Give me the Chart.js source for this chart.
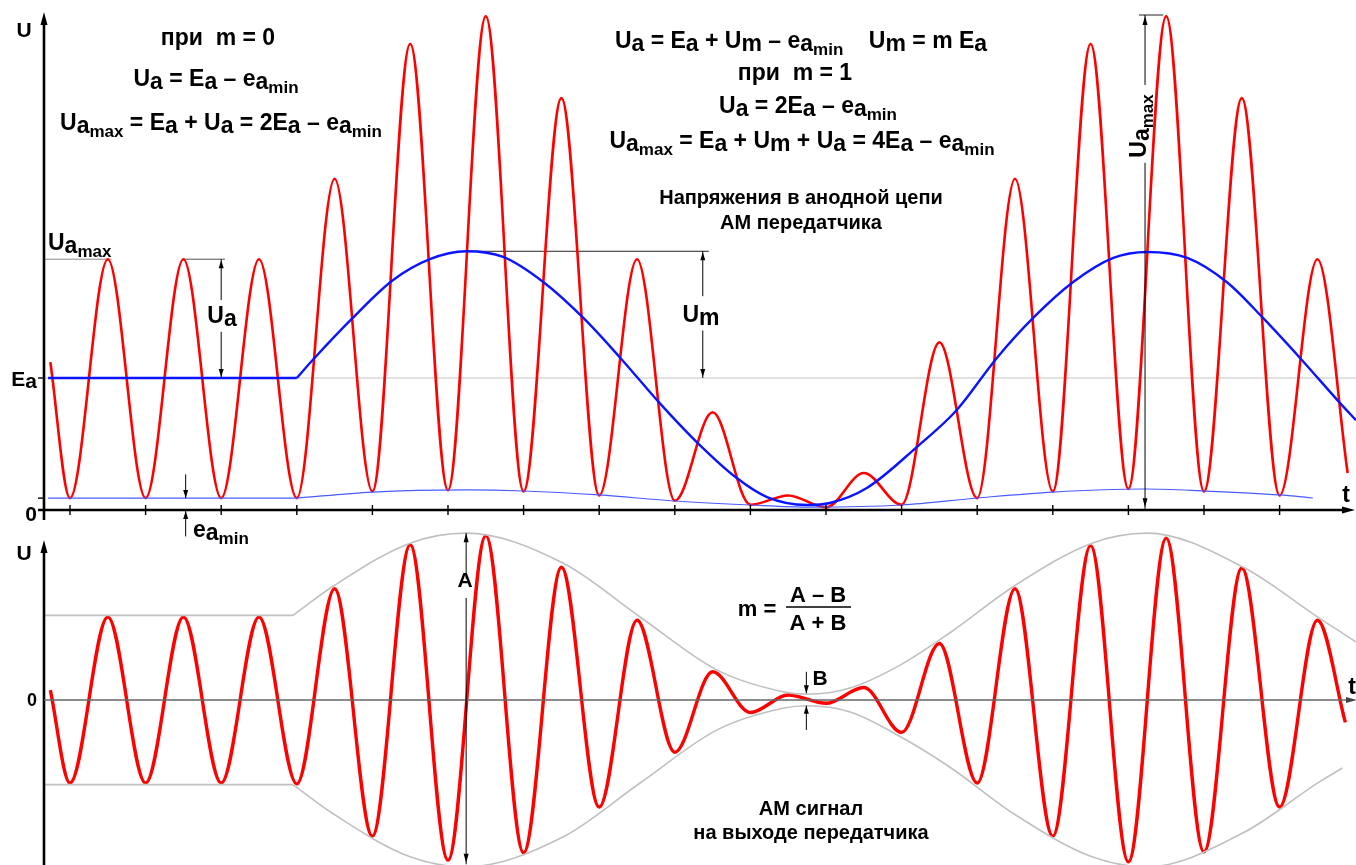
<!DOCTYPE html>
<html>
<head>
<meta charset="utf-8">
<script src="https://cdn.jsdelivr.net/npm/chart.js@4.4.0/dist/chart.umd.min.js"></script>
<style>
  html, body { margin: 0; padding: 0; background: #fff; }
  canvas { display: block; }
</style>
</head>
<body>
<canvas id="amChart" width="1356" height="865"></canvas>
<script>
// время в периодах несущей (0 = первый минимум), U при Ea = 100
const carrierTicks = [0, 1, 2, 3, 4, 5, 6, 7, 8, 9, 10, 11, 12, 13, 14, 15, 16];

// верхний график: напряжение на аноде (красная)
const anodeT = [-0.26, 0, 0.5, 1, 1.5, 2, 2.5, 3, 3.5, 4, 4.5, 5, 5.5, 6, 6.5, 7, 7.5, 8, 8.5, 9, 9.5, 10, 10.5, 11, 11.5, 12, 12.5, 13, 13.5, 14, 14.5, 15, 15.5, 16, 16.5, 16.9];
const anodeU = [112, 9, 190, 9, 190, 9, 190, 9, 251, 14, 353, 15, 374, 14, 312, 11, 190, 7, 74, 4, 11, 2, 28, 4, 127, 9, 251, 14, 353, 16, 374, 14, 312, 11, 190, 28];

// модулирующее напряжение (синяя), первые две точки - участок без модуляции
const modT = [-0.29, 3.0, 3.21, 3.74, 4.27, 4.76, 5.24, 5.73, 6.26, 6.79, 7.28, 7.8, 8.29, 8.82, 9.22, 9.75, 10.05, 10.54, 11.2, 11.73, 12.26, 12.74, 13.27, 13.8, 14.25, 14.78, 15.3, 15.78, 16.27, 16.8, 17.01];
const modU = [100, 100, 113.6, 145.5, 174, 190, 196, 191.7, 172.7, 145.5, 115.2, 81, 51.5, 24.2, 9.8, 3.8, 5.3, 16.7, 47.7, 75.8, 115.2, 145.5, 172.7, 191, 195.5, 191, 172.7, 145.5, 115.2, 81, 68];

// остаточное напряжение ea min (тонкая синяя)
const eminT = [-0.29, 3, 4, 5.24, 6, 7, 8, 9, 9.8, 11, 12, 13, 14.22, 15, 16, 16.44];
const eminU = [9, 9, 13.6, 15.2, 14.4, 11.4, 6.8, 3.8, 2.2, 3.8, 9.1, 13.6, 15.9, 14.4, 11.4, 9.1];

// нижний график: АМ сигнал, амплитуда несущей = 100
const amT = [-0.26, 0, 0.5, 1, 1.5, 2, 2.5, 3, 3.5, 4, 4.5, 5, 5.5, 6, 6.5, 7, 7.5, 8, 8.5, 9, 9.5, 10, 10.5, 11, 11.5, 12, 12.5, 13, 13.5, 14, 14.5, 15, 15.5, 16, 16.5, 16.87];
const amV = [12, -100, 100, -100, 100, -100, 100, -101, 134, -164, 187, -193, 198, -184, 160, -129, 96, -63, 34, -15, 6, -4, 15, -39, 68, -100, 134, -164, 186, -195, 195, -183, 159, -129, 96, -27];

// огибающие
const envUpT = [-0.34, 2.95, 3.48, 4.5, 5.24, 6.52, 7.54, 8.56, 9.43, 9.75, 10.32, 10.98, 11.64, 12.5, 13.52, 14.25, 15.52, 16.52, 17.01];
const envUpV = [102, 102, 137, 189, 201, 165, 100, 36, 10, 7, 14.5, 42, 81, 138, 189, 201, 160, 99, 70];
const envLoT = [-0.34, 2.95, 3.48, 4.5, 5.24, 6.52, 7.54, 8.56, 9.43, 9.75, 10.32, 10.98, 11.64, 12.5, 13.52, 14.25, 15.52, 16.52, 16.83];
const envLoV = [-102, -102, -137, -189, -201, -165, -100, -36, -10, -7, -14.5, -44, -81, -138, -189, -201, -160, -99, -82];

// подписи осей
const topAxisValues = [0, 100];
const topAxisLabels = ['0', 'E_a'];

const pts = (xs, ys) => xs.map((x, i) => ({ x: x, y: ys[i] }));
const FONT = '"Liberation Sans", Arial, sans-serif';

function seg(ctx, x1, y1, x2, y2, color, w) {
    ctx.beginPath();
    ctx.moveTo(x1, y1);
    ctx.lineTo(x2, y2);
    ctx.strokeStyle = color;
    ctx.lineWidth = w;
    ctx.stroke();
}

// наконечник стрелки, острие в (x, y)
function head(ctx, x, y, dir, len, half, color) {
    const dx = dir === 'right' ? -1 : dir === 'left' ? 1 : 0;
    const dy = dir === 'down' ? -1 : dir === 'up' ? 1 : 0;
    ctx.beginPath();
    ctx.moveTo(x, y);
    ctx.lineTo(x + dx * len - dy * half, y + dy * len - dx * half);
    ctx.lineTo(x + dx * len + dy * half, y + dy * len + dx * half);
    ctx.closePath();
    ctx.fillStyle = color || '#000';
    ctx.fill();
}

// "U_a_{max}" -> U, a (индекс), max (мелкий индекс)
function parseRich(str) {
    const runs = [];
    let i = 0;
    while (i < str.length) {
        if (str[i] === '_') {
            if (str[i + 1] === '{') {
                const j = str.indexOf('}', i);
                runs.push([str.slice(i + 2, j), 2]);
                i = j + 1;
            } else {
                runs.push([str[i + 1], 1]);
                i += 2;
            }
        } else {
            let j = i;
            while (j < str.length && str[j] !== '_') j++;
            runs.push([str.slice(i, j), 0]);
            i = j;
        }
    }
    return runs;
}

function rich(ctx, str, x, y, size, align) {
    const parts = parseRich(str).map(([s, lv]) => {
        const fs = lv === 2 ? Math.round(size * 0.72) : size;
        ctx.font = 'bold ' + fs + 'px ' + FONT;
        return { s: s, fs: fs, dy: lv === 0 ? 0 : lv === 1 ? size * 0.1 : size * 0.3, w: ctx.measureText(s).width };
    });
    const total = parts.reduce((a, p) => a + p.w, 0);
    let cx = align === 'left' ? x : align === 'right' ? x - total : x - total / 2;
    const base = y + size * 0.36;
    ctx.fillStyle = '#000';
    ctx.textAlign = 'left';
    ctx.textBaseline = 'alphabetic';
    parts.forEach(p => {
        ctx.font = 'bold ' + p.fs + 'px ' + FONT;
        ctx.fillText(p.s, cx, base + p.dy);
        cx += p.w;
    });
    return total;
}

const annotations = {
    id: 'annotations',
    beforeDatasetsDraw(chart) {
        const ctx = chart.ctx;
        const X = v => chart.scales.x.getPixelForValue(v);
        const T = v => chart.scales.yTop.getPixelForValue(v);
        ctx.save();
        // уровень Ea
        seg(ctx, X(-0.344), T(100), X(17.1), T(100), '#c4c4c4', 1);
        // уровни Ua max и Um
        seg(ctx, X(-0.344), T(190), X(0.55), T(190), '#8a8a8a', 1);
        seg(ctx, X(1.5), T(190), X(2.05), T(190), '#555', 1);
        seg(ctx, X(5.24), T(196), X(8.45), T(196), '#222', 1);
        seg(ctx, X(14.14), T(375), X(14.46), T(375), '#222', 1);
        ctx.restore();
    },
    afterDatasetsDraw(chart) {
        const ctx = chart.ctx;
        const X = v => chart.scales.x.getPixelForValue(v);
        const T = v => chart.scales.yTop.getPixelForValue(v);
        const B = v => chart.scales.yBot.getPixelForValue(v);
        const x0 = X(-0.344);
        ctx.save();

        // --- верхние оси
        const yz = T(0);
        seg(ctx, x0, T(-7.6), x0, 22, '#000', 2.6);
        head(ctx, x0, 12, 'up', 13, 3.5);
        seg(ctx, x0 - 6, yz, 1344, yz, '#000', 2.6);
        head(ctx, 1355, yz, 'right', 13, 3.5);
        carrierTicks.forEach(t => seg(ctx, X(t), yz - 5, X(t), yz + 5, '#000', 1.4));
        seg(ctx, x0 - 6, T(100), x0, T(100), '#000', 1.4);
        seg(ctx, x0 - 6, T(9), x0, T(9), '#000', 1.4);

        // --- нижние оси
        const bz = B(0);
        seg(ctx, x0, 865, x0, 550, '#000', 2.6);
        head(ctx, x0, 540, 'up', 13, 3.5);
        seg(ctx, x0, bz, 1346, bz, '#666', 1.5);
        head(ctx, 1357, bz, 'right', 11, 3, '#444');

        // --- размерные стрелки
        // Ua
        seg(ctx, X(2.0), T(190), X(2.0), T(159), '#000', 1);
        head(ctx, X(2.0), T(190) + 1, 'up', 8, 2.5);
        seg(ctx, X(2.0), T(135), X(2.0), T(100), '#000', 1);
        head(ctx, X(2.0), T(100) - 1, 'down', 8, 2.5);
        // Um
        seg(ctx, X(8.37), T(196), X(8.37), T(162), '#000', 1);
        head(ctx, X(8.37), T(196) + 1, 'up', 8, 2.5);
        seg(ctx, X(8.37), T(136), X(8.37), T(100), '#000', 1);
        head(ctx, X(8.37), T(100) - 1, 'down', 8, 2.5);
        // Ua max
        seg(ctx, X(14.22), T(375), X(14.22), T(322), '#000', 1);
        head(ctx, X(14.22), T(375) + 1, 'up', 9, 2.5);
        seg(ctx, X(14.22), T(263), X(14.22), T(0), '#000', 1);
        head(ctx, X(14.22), T(2), 'down', 9, 2.5);
        // ea min
        seg(ctx, X(1.53), T(27), X(1.53), T(9), '#000', 1);
        head(ctx, X(1.53), T(9), 'down', 8, 2.5);
        seg(ctx, X(1.53), T(-20), X(1.53), T(0), '#000', 1);
        head(ctx, X(1.53), T(0) + 1, 'up', 8, 2.5);
        // A
        seg(ctx, X(5.24), B(201), X(5.24), B(146), '#000', 1);
        head(ctx, X(5.24), B(201), 'up', 9, 2.5);
        seg(ctx, X(5.24), B(123), X(5.24), B(-198), '#000', 1);
        head(ctx, X(5.24), B(-196), 'down', 9, 2.5);
        // B
        seg(ctx, X(9.74), B(34), X(9.74), B(8), '#000', 1);
        head(ctx, X(9.74), B(8), 'down', 8, 2.5);
        seg(ctx, X(9.74), B(-36), X(9.74), B(-7), '#000', 1);
        head(ctx, X(9.74), B(-7), 'up', 8, 2.5);

        // --- подписи осей
        rich(ctx, 'U', 24, 29, 21, 'center');
        rich(ctx, 't', 1346, 494, 23, 'center');
        topAxisValues.forEach((v, i) => rich(ctx, topAxisLabels[i], x0 - 7, T(v) + (v === 0 ? 3 : 0), 21, 'right'));
        rich(ctx, 'U', 24, 552, 21, 'center');
        rich(ctx, '0', 32, bz, 18, 'center');
        rich(ctx, 't', 1352, 686, 23, 'center');

        // --- формулы
        const F = 23;
        rich(ctx, 'при  m = 0', 218, 37, F, 'center');
        rich(ctx, 'U_a = E_a – e_a_{min}', 216, 78, F, 'center');
        rich(ctx, 'U_a_{max} = E_a + U_a = 2E_a – e_a_{min}', 221, 122, F, 'center');
        rich(ctx, 'U_a = E_a + U_m – e_a_{min}    U_m = m E_a', 801, 40, F, 'center');
        rich(ctx, 'при  m = 1', 795, 72, F, 'center');
        rich(ctx, 'U_a = 2E_a – e_a_{min}', 808, 105, F, 'center');
        rich(ctx, 'U_a_{max} = E_a + U_m + U_a = 4E_a – e_a_{min}', 802, 140, F, 'center');
        rich(ctx, 'Напряжения в анодной цепи', 801, 197, 20, 'center');
        rich(ctx, 'АМ передатчика', 801, 222, 20, 'center');

        rich(ctx, 'U_a_{max}', 48, 242, F, 'left');
        rich(ctx, 'U_a', 222, 315, F, 'center');
        rich(ctx, 'U_m', 701, 314, F, 'center');
        rich(ctx, 'e_a_{min}', 193, 529, F, 'left');

        ctx.save();
        ctx.translate(1138, 126);
        ctx.rotate(-Math.PI / 2);
        rich(ctx, 'U_a_{max}', 0, 0, F, 'center');
        ctx.restore();

        rich(ctx, 'A', 465, 579, 21, 'center');
        rich(ctx, 'B', 820, 677, 21, 'center');
        rich(ctx, 'm =', 757, 608, 22, 'center');
        rich(ctx, 'A – B', 818, 594, 22, 'center');
        seg(ctx, 786, 607, 851, 607, '#000', 1.6);
        rich(ctx, 'A + B', 818, 622, 22, 'center');
        rich(ctx, 'АМ сигнал', 811, 808, 20, 'center');
        rich(ctx, 'на выходе передатчика', 811, 832, 20, 'center');

        ctx.restore();
    }
};

// ровный участок и участок с модуляцией рисуются отдельно, чтобы был излом
const flat = arr => arr.slice(0, 2);
const modulated = arr => arr.slice(1);

const ctx = document.getElementById('amChart').getContext('2d');
const amChart = new Chart(ctx, {
    type: 'line',
    data: {
        datasets: [
            { data: flat(pts(envUpT, envUpV)), yAxisID: 'yBot', borderColor: '#c0c0c0', borderWidth: 1.6 },
            { data: modulated(pts(envUpT, envUpV)), yAxisID: 'yBot', borderColor: '#c0c0c0', borderWidth: 1.6 },
            { data: flat(pts(envLoT, envLoV)), yAxisID: 'yBot', borderColor: '#c0c0c0', borderWidth: 1.6 },
            { data: modulated(pts(envLoT, envLoV)), yAxisID: 'yBot', borderColor: '#c0c0c0', borderWidth: 1.6 },
            { data: pts(amT, amV), yAxisID: 'yBot', borderColor: '#ff0000', borderWidth: 3.4 },
            { data: flat(pts(eminT, eminU)), yAxisID: 'yTop', borderColor: '#4a5cff', borderWidth: 1.2 },
            { data: modulated(pts(eminT, eminU)), yAxisID: 'yTop', borderColor: '#4a5cff', borderWidth: 1.2 },
            { data: flat(pts(modT, modU)), yAxisID: 'yTop', borderColor: '#0a14ff', borderWidth: 2.4 },
            { data: modulated(pts(modT, modU)), yAxisID: 'yTop', borderColor: '#0a14ff', borderWidth: 2.4 },
            { data: pts(anodeT, anodeU), yAxisID: 'yTop', borderColor: '#ff0000', borderWidth: 2.6 }
        ]
    },
    options: {
        responsive: false,
        animation: false,
        events: [],
        layout: { padding: 0 },
        elements: {
            point: { radius: 0 },
            line: { cubicInterpolationMode: 'monotone', fill: false }
        },
        plugins: { legend: { display: false }, tooltip: { enabled: false } },
        scales: {
            x: { type: 'linear', min: -70 / 75.6, max: 1286 / 75.6, display: false },
            yTop: { type: 'linear', min: -355 / 1.32, max: 510 / 1.32, display: false },
            yBot: { type: 'linear', min: -165 / 0.83, max: 700 / 0.83, display: false }
        }
    },
    plugins: [annotations]
});
</script>
</body>
</html>
